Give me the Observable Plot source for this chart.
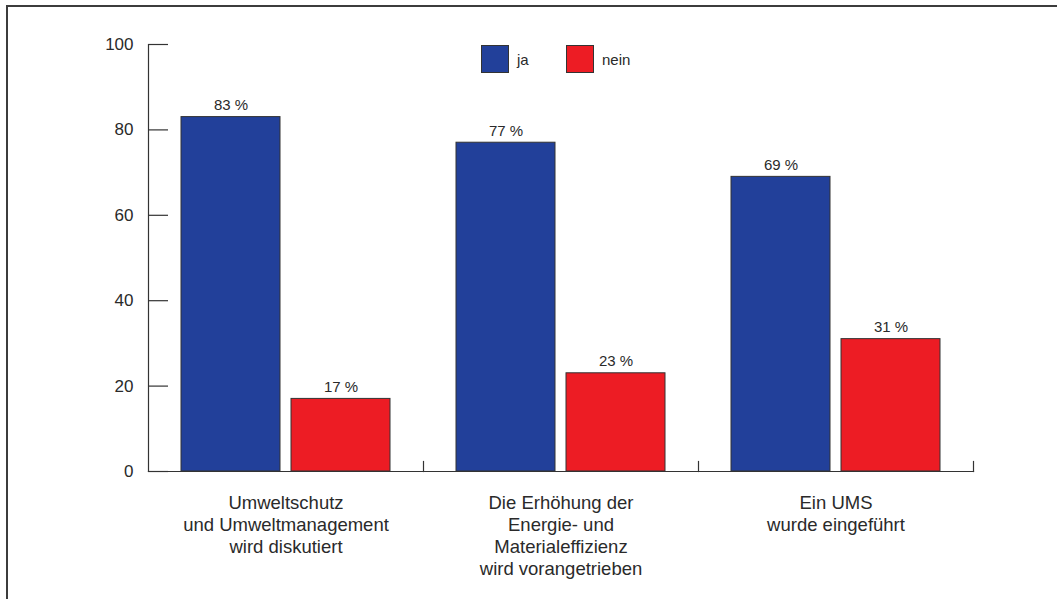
<!DOCTYPE html>
<html><head><meta charset="utf-8">
<script src="https://cdn.jsdelivr.net/npm/d3@7"></script>
<script src="https://cdn.jsdelivr.net/npm/@observablehq/plot@0.6"></script>
<style>
body{margin:0;background:#fff;}
#wrap{position:relative;width:1057px;height:599px;overflow:hidden;font-family:"Liberation Sans",Arial,sans-serif;color:#2a2a2a;}
#border{position:absolute;left:6px;top:5px;right:-4px;bottom:-4px;border-top:2px solid #3c3c3c;border-left:2px solid #3c3c3c;pointer-events:none;}
#chart{position:absolute;left:0;top:0;}
.lg{position:absolute;display:flex;align-items:center;font-size:15px;}
.sw{width:28px;height:28px;border:1px solid #333;box-sizing:border-box;margin-right:8px;}
</style>
</head><body>
<div id="wrap">
  <div id="chart"></div>
  <div id="border"></div>
  <div class="lg" style="left:481px;top:45px;"><div class="sw" style="background:#22409a"></div><span>ja</span></div>
  <div class="lg" style="left:566px;top:45px;"><div class="sw" style="background:#ed1c24"></div><span>nein</span></div>
</div>
<script>
const categories = [
  "Umweltschutz\nund Umweltmanagement\nwird diskutiert",
  "Die Erhöhung der\nEnergie- und\nMaterialeffizienz\nwird vorangetrieben",
  "Ein UMS\nwurde eingeführt"
];
const series = ["ja", "nein"];
const jaValues = [83, 77, 69];
const neinValues = [17, 23, 31];
const yTicks = [0, 20, 40, 60, 80, 100];
const colors = ["#22409a", "#ed1c24"];

const rows = categories.flatMap((c, i) => [
  {cat: c, series: "ja", value: jaValues[i]},
  {cat: c, series: "nein", value: neinValues[i]}
]);

const chart = Plot.plot({
  width: 1057,
  height: 599,
  marginLeft: 148,
  marginRight: 84,
  marginTop: 44,
  marginBottom: 128,
  style: {fontFamily: "'Liberation Sans', Arial, sans-serif", color: "#2a2a2a", background: "transparent"},
  fx: {domain: categories, padding: 0, axis: null},
  x: {domain: series, paddingInner: 0.1, paddingOuter: 0.3, axis: null},
  y: {domain: [0, 100], label: null},
  color: {domain: series, range: colors},
  marks: [
    Plot.barY(rows, {fx: "cat", x: "series", y: "value", fill: "series", stroke: "#333", strokeWidth: 1}),
    Plot.text(rows, {fx: "cat", x: "series", y: "value", text: d => d.value + " %", dy: -12, fontSize: 15, fill: "#2a2a2a"}),
    Plot.frame({anchor: "bottom", stroke: "#333", strokeWidth: 1.2}),
    Plot.frame({anchor: "right", insetTop: 417, stroke: "#333", strokeWidth: 1.2}),
    Plot.frame({anchor: "left", facetAnchor: "left", stroke: "#333", strokeWidth: 1.2}),
    Plot.ruleY(yTicks, {y: d => d, insetRight: 255, facetAnchor: "left", stroke: "#333", strokeWidth: 1.2}),
    Plot.axisY(yTicks, {tickSize: 0, tickPadding: 15, fontSize: 17, fill: "#2a2a2a", label: null}),
    Plot.text(categories, {fx: d => d, text: d => d, frameAnchor: "bottom", lineAnchor: "top", dy: 22, fontSize: 18.5, lineHeight: 1.19, fill: "#2a2a2a"})
  ]
});
document.getElementById("chart").appendChild(chart);
</script>
</body></html>
